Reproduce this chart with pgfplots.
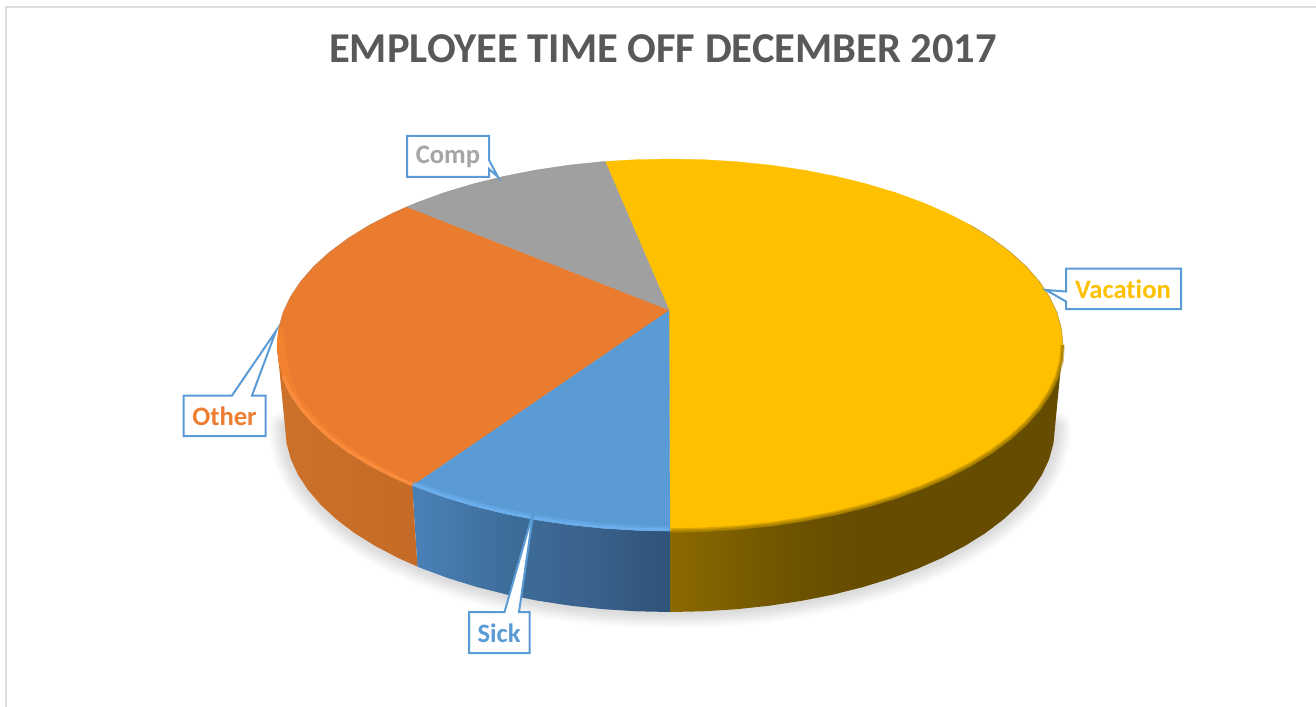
\documentclass[border=0pt]{standalone}
\usepackage{pgfplots}
\pgfplotsset{compat=1.18}
\usepackage{fontspec}
\setmainfont[Ligatures=NoCommon]{Carlito}

\definecolor{vacation}{HTML}{FFC000}
\definecolor{other}{HTML}{E97C2E}
\definecolor{sick}{HTML}{5B9BD5}
\definecolor{comp}{HTML}{A0A0A0}
\definecolor{comptext}{HTML}{A5A5A5}
\definecolor{othertext}{HTML}{ED7D31}
\definecolor{titlegray}{HTML}{595959}
\definecolor{frame}{HTML}{DEDEDE}
\definecolor{callout}{HTML}{5B9BD5}
\definecolor{otherband}{HTML}{F28230}
\definecolor{otherlight}{HTML}{FA8C3E}
\definecolor{sicklight}{HTML}{6CB2F2}
\definecolor{vacedge}{HTML}{B08600}

% side wall shadings, 25bp..75bp is the width of the path
\definecolor{vw1}{HTML}{8C6A00}\definecolor{vw2}{HTML}{6D5200}\definecolor{vw3}{HTML}{654C00}
\pgfdeclarehorizontalshading{vacwall}{100bp}{color(0bp)=(vw1); color(25bp)=(vw1); color(41bp)=(vw2); color(49bp)=(vw3); color(100bp)=(vw3)}
\definecolor{sw1}{HTML}{4A80B5}\definecolor{sw2}{HTML}{3D6D9A}\definecolor{sw3}{HTML}{3A618B}\definecolor{sw4}{HTML}{2F5479}
\pgfdeclarehorizontalshading{sickwall}{100bp}{color(0bp)=(sw1); color(27bp)=(sw1); color(43bp)=(sw2); color(60bp)=(sw3); color(74bp)=(sw4); color(100bp)=(sw4)}
\definecolor{ow1}{HTML}{CC7129}\definecolor{ow2}{HTML}{C46B27}
\pgfdeclarehorizontalshading{otherwall}{100bp}{color(0bp)=(ow1); color(25bp)=(ow1); color(75bp)=(ow2); color(100bp)=(ow2)}

\begin{document}
\begin{tikzpicture}
\begin{axis}[
    scale only axis,
    width=1316bp,
    height=707bp,
    xmin=0, xmax=1316,
    ymin=0, ymax=707,
    y dir=reverse,
    hide axis,
]

% keep the whole axis box as the page
\path (0,0) rectangle (1316,707);

% chart frame
\draw[frame, line width=2bp] (6,707) -- (6,7) -- (1316,7);

% soft shadow under the pie
\pgfplotstableread{
x y
1055 427
1053.5 443.1
1049.2 459.1
1041.9 474.9
1031.8 490.3
1018.9 505.2
1003.4 519.5
985.4 533.1
964.9 545.9
942.2 557.8
917.5 568.7
890.8 578.5
862.5 587.2
832.7 594.7
801.7 600.8
769.6 605.7
736.8 609.2
703.6 611.3
670 612
636.4 611.3
603.2 609.2
570.4 605.7
538.3 600.8
507.3 594.7
477.5 587.2
449.2 578.5
422.5 568.7
397.8 557.8
375.1 545.9
354.6 533.1
336.6 519.5
321.1 505.2
308.2 490.3
298.1 474.9
290.8 459.1
286.5 443.1
285 427
}\bottomrim
\pgfplotsset{shadow/.style={black, line cap=round, line join=round}}
\addplot[shadow, opacity=.012, line width=34bp] table {\bottomrim};
\addplot[shadow, opacity=.015, line width=30bp] table {\bottomrim};
\addplot[shadow, opacity=.018, line width=26bp] table {\bottomrim};
\addplot[shadow, opacity=.02, line width=22bp] table {\bottomrim};
\addplot[shadow, opacity=.02, line width=18bp] table {\bottomrim};
\addplot[shadow, opacity=.02, line width=14bp] table {\bottomrim};
\addplot[shadow, opacity=.02, line width=10bp] table {\bottomrim};
\addplot[shadow, opacity=.02, line width=6bp] table {\bottomrim};

% side walls
\addplot[shade, shading=vacwall, draw=none] coordinates {
    (670,531) (704.3,530.3) (738.2,528.2) (771.7,524.7) (804.4,519.8) (836.1,513.6)
    (866.5,506.1) (895.4,497.4) (922.6,487.5) (947.9,476.5) (971,464.6) (991.9,451.7)
    (1010.3,438) (1026.2,423.6) (1039.3,408.6) (1049.6,393.1) (1057,377.3) (1061.5,361.2) (1063,345)
    (1055,427) (1053.5,443.1) (1049.2,459.1) (1041.9,474.9) (1031.8,490.3) (1018.9,505.2)
    (1003.4,519.5) (985.4,533.1) (964.9,545.9) (942.2,557.8) (917.5,568.7) (890.8,578.5)
    (862.5,587.2) (832.7,594.7) (801.7,600.8) (769.6,605.7) (736.8,609.2) (703.6,611.3) (670,612)
} --cycle;
\addplot[shade, shading=sickwall, draw=none] coordinates {
    (670,531) (635.7,530.3) (601.8,528.2) (568.3,524.7) (535.6,519.8) (503.9,513.6)
    (473.5,506.1) (444.6,497.4) (417.4,487.5) (412.2,485.4)
    (417.4,566.6) (422.5,568.7) (449.2,578.5) (477.5,587.2) (507.3,594.7) (538.3,600.8)
    (570.4,605.7) (603.2,609.2) (636.4,611.3) (670,612)
} --cycle;
\addplot[shade, shading=otherwall, draw=none] coordinates {
    (412.2,485.4) (392.1,476.5) (369,464.6) (348.1,451.7) (329.7,438) (313.8,423.6)
    (300.7,408.6) (290.4,393.1) (283,377.3) (278.5,361.2) (277,345)
    (285,427) (286.5,443.1) (290.8,459.1) (298.1,474.9) (308.2,490.3) (321.1,505.2)
    (336.6,519.5) (354.6,533.1) (375.1,545.9) (397.8,557.8) (417.4,566.6)
} --cycle;

% top face of the four slices, all from the vertex (669,310)
\addplot[fill=vacation, draw=vacation, line width=.3bp] coordinates {
    (669,310) (605.1,161.5) (635.7,159.7) (670,159) (704.3,159.7) (738.2,161.8) (771.7,165.3)
    (804.4,170.2) (836.1,176.4) (866.5,183.9) (895.4,192.6) (922.6,202.5) (947.9,213.5)
    (971,225.4) (991.9,238.3) (1010.3,252) (1026.2,266.4) (1039.3,281.4) (1049.6,296.9)
    (1057,312.7) (1061.5,328.8) (1063,345) (1061.5,361.2) (1057,377.3) (1049.6,393.1)
    (1039.3,408.6) (1026.2,423.6) (1010.3,438) (991.9,451.7) (971,464.6) (947.9,476.5)
    (922.6,487.5) (895.4,497.4) (866.5,506.1) (836.1,513.6) (804.4,519.8) (771.7,524.7)
    (738.2,528.2) (704.3,530.3) (670,531)
} --cycle;
\addplot[fill=sick, draw=sick, line width=.3bp] coordinates {
    (669,310) (670,531) (635.7,530.3) (601.8,528.2) (568.3,524.7) (535.6,519.8) (503.9,513.6)
    (473.5,506.1) (444.6,497.4) (417.4,487.5) (412.2,485.4)
} --cycle;
\addplot[fill=other, draw=other, line width=.3bp] coordinates {
    (669,310) (412.2,485.4) (392.1,476.5) (369,464.6) (348.1,451.7) (329.7,438) (313.8,423.6)
    (300.7,408.6) (290.4,393.1) (283,377.3) (278.5,361.2) (277,345) (278.5,328.8) (283,312.7)
    (290.4,296.9) (300.7,281.4) (313.8,266.4) (329.7,252) (348.1,238.3) (369,225.4)
    (392.1,213.5) (407,206.8)
} --cycle;
\addplot[fill=comp, draw=comp, line width=.3bp] coordinates {
    (669,310) (407,206.8) (417.4,202.5) (444.6,192.6) (473.5,183.9) (503.9,176.4)
    (535.6,170.2) (568.3,165.3) (601.8,161.8) (605.1,161.5)
} --cycle;

% bevel along the front of the top face
\addplot[fill=otherband, draw=none] coordinates {
    (412.2,485.4) (392.1,476.5) (369,464.6) (348.1,451.7) (329.7,438) (313.8,423.6)
    (300.7,408.6) (290.4,393.1) (283,377.3) (278.5,361.2) (277,345) (278.5,328.8)
    (283,329) (285,345) (287,362) (292,382) (301,399) (314,416) (330,431) (348,446) (369,459) (392,472)
} --cycle;
\addplot[otherlight, line width=3.5bp] coordinates {
    (412.2,484.4) (392.1,475.5) (369,463.6) (348.1,450.7) (329.7,437) (313.8,422.6)
    (300.7,407.6) (290.4,392.1) (283,376.3)
};
\addplot[sicklight, opacity=.45, line width=5bp] coordinates {
    (669,529) (635.7,527.8) (601.8,525.7) (568.3,522.2) (535.6,517.3) (503.9,511.1)
    (473.5,503.6) (444.6,494.9) (417.4,485) (413,483.2)
};
\addplot[sicklight, opacity=.8, line width=2bp] coordinates {
    (669,529.6) (635.7,528.9) (601.8,526.8) (568.3,523.3) (535.6,518.4) (503.9,512.2)
    (473.5,504.7) (444.6,496) (417.4,486.1) (413,484.3)
};
\addplot[vacedge, opacity=.5, line width=4.5bp] coordinates {
    (671,530.5) (704.3,529.8) (738.2,527.7) (771.7,524.2) (804.4,519.3) (836.1,513.1)
    (866.5,505.6) (895.4,496.9) (922.6,487) (947.9,476) (971,464.1) (991.9,451.2)
    (1010.3,437.5) (1026.2,423.1) (1039.3,408.1) (1049.6,392.6) (1057,376.8) (1061.5,360.7) (1062.5,345)
};
\addplot[vacedge, line width=2bp] coordinates {
    (671,531) (704.3,530.3) (738.2,528.2) (771.7,524.7) (804.4,519.8) (836.1,513.6)
    (866.5,506.1) (895.4,497.4) (922.6,487.5) (947.9,476.5) (971,464.6) (991.9,451.7)
    (1010.3,438) (1026.2,423.6) (1039.3,408.6) (1049.6,393.1) (1057,377.3) (1061.5,361.2) (1063,345)
};

% faint dark edge on the back of the top face
\addplot[black!55, opacity=.4, line width=.8bp] coordinates {
    (1063,345) (1061.5,328.8) (1057,312.7) (1049.6,296.9) (1039.3,281.4) (1026.2,266.4)
    (1010.3,252) (991.9,238.3) (971,225.4)
};
\addplot[black!55, opacity=.2, line width=.8bp] coordinates {
    (605.1,161.5) (568.3,165.3) (535.6,170.2) (503.9,176.4) (473.5,183.9) (444.6,192.6)
    (417.4,202.5) (392.1,213.5) (369,225.4) (348.1,238.3) (329.7,252) (313.8,266.4)
    (300.7,281.4) (290.4,296.9) (283,312.7) (278.5,328.8)
};

% title
\node[anchor=base, text=titlegray, font=\fontsize{42.7}{44}\selectfont\bfseries] at (663,63) {EMPLOYEE TIME OFF DECEMBER 2017};

% callouts
\tikzset{callbox/.style={draw=callout, fill=white, line width=2bp, line join=miter}}
\draw[callbox] (407,136) -- (489,136) -- (489,160) -- (498,177) -- (489,169) -- (489,177) -- (407,177) -- cycle;
\draw[callbox] (183.5,395.5) -- (232,395.5) -- (276,331) -- (252,395.5) -- (265.5,395.5) -- (265.5,436) -- (183.5,436) -- cycle;
\draw[callbox] (469,612) -- (504.5,612) -- (533.5,511) -- (519,612) -- (529.5,612) -- (529.5,653) -- (469,653) -- cycle;
\draw[callbox] (1066,268.5) -- (1181,268.5) -- (1181,309) -- (1066,309) -- (1066,301.5) -- (1046,290) -- (1066,291.5) -- cycle;

\node[text=comptext, font=\fontsize{26.7}{28}\selectfont\bfseries] at (448,157) {Comp};
\node[text=othertext, font=\fontsize{26.7}{28}\selectfont\bfseries] at (224.5,416) {Other};
\node[text=sick, font=\fontsize{26.7}{28}\selectfont\bfseries] at (499,633) {Sick};
\node[text=vacation, font=\fontsize{26.7}{28}\selectfont\bfseries] at (1123,289.5) {Vacation};

\end{axis}
\end{tikzpicture}
\end{document}
